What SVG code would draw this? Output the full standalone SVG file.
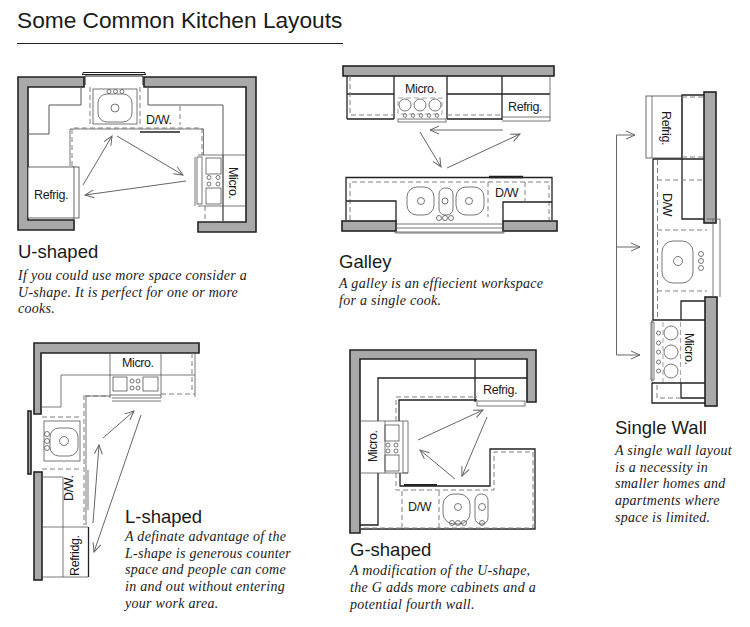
<svg xmlns="http://www.w3.org/2000/svg" width="750" height="627" viewBox="0 0 750 627">
<defs>
<marker id="a" markerUnits="userSpaceOnUse" markerWidth="12" markerHeight="12" refX="10" refY="5" orient="auto"><path d="M1 1L10 5L1 9" fill="none" stroke="#666" stroke-width="1"/></marker>
</defs>
<style>
text{fill:#1a1a1a}
.t{font-family:"Liberation Sans",Arial,sans-serif}
.h{font-size:18.5px}
.l{font-family:"Liberation Sans",Arial,sans-serif;font-size:12.5px;letter-spacing:-.4px}
.d{font-family:"Liberation Serif","Times New Roman",serif;font-style:italic;font-size:14px;letter-spacing:.28px}
.w{fill:#a9a9a9;stroke:#222;stroke-width:1.6}
.k{fill:none;stroke:#222;stroke-width:1.3}
.n{fill:none;stroke:#555;stroke-width:.8}
.g{fill:none;stroke:#808080;stroke-width:1;stroke-dasharray:5 3}
.f{fill:#fff;stroke:#444;stroke-width:.8}
.r{fill:none;stroke:#666;stroke-width:1;marker-end:url(#a)}
</style>
<rect width="750" height="627" fill="#fff"/>
<g id="title">
<text class="t" x="17" y="28" font-size="22.7">Some Common Kitchen Layouts</text>
<path d="M17 43.500H343" stroke="#222" stroke-width="1.2" fill="none"/>
</g>

<g id="u-shaped">
<path class="k" style="stroke-width:1" d="M83 75V72.500H145V75M82 74.500H146M85 85V76H143V85"/>
<path class="w" d="M18 77H84V87H28V220H74V230H18Z"/>
<path class="w" d="M144 77H256V232H198V222H246V87H144Z"/>
<path class="k" style="stroke:#555;stroke-width:1" d="M81 87V105H49V134H28M148 87V105H223V222"/>
<path class="g" d="M90 87V127M140 87V127M180 106V125"/>
<rect class="n" x="93" y="89" width="44" height="35"/>
<rect class="n" x="98" y="94" width="34" height="28" rx="9"/>
<circle class="n" cx="115" cy="108" r="4"/>
<circle class="n" cx="109" cy="91.500" r="2"/><circle class="n" cx="115.500" cy="91.500" r="2"/><circle class="n" cx="122" cy="91.500" r="2"/>
<path class="g" d="M72 166V128H202V155M205 206V222"/>
<path class="n" d="M70 166V129H203.500V155"/>
<path class="k" d="M140 132H180"/>
<text class="l" x="146" y="124">D/W.</text>
<rect class="f" x="73" y="167" width="6" height="51"/>
<rect class="f" x="28" y="167" width="46" height="51"/>
<text class="l" x="34" y="199">Refrig.</text>
<path class="n" d="M198 155H245M198 206H245M195 157V206M223 155V222"/>
<rect class="n" x="197" y="157" width="5" height="47"/>
<rect class="n" x="206" y="158" width="15" height="16"/>
<rect class="n" x="206" y="188" width="15" height="16"/>
<circle class="n" cx="209" cy="177.500" r="2"/><circle class="n" cx="218" cy="177.500" r="2"/><circle class="n" cx="209" cy="184" r="2"/><circle class="n" cx="218" cy="184" r="2"/>
<text class="l" transform="translate(229 167) rotate(90)">Micro.</text>
</g>

<g id="galley">
<rect class="w" x="343" y="66" width="211" height="10"/>
<path class="k" d="M347 119V76M394 76V119M447 76V119M502 76V120M347 94H394M447 94H550M347 119H394M447 119H502"/>
<path class="n" d="M502 117H550M502 121H550M550 76V121"/>
<path class="g" d="M350 76V115H394M447 115H502"/>
<circle class="n" cx="405" cy="105" r="6"/><circle class="n" cx="420" cy="105" r="6"/><circle class="n" cx="435" cy="105" r="6"/>
<path class="g" style="stroke-width:.7" d="M398 98H442V114H398Z"/>
<circle class="n" cx="405" cy="115.500" r="1.800"/><circle class="n" cx="413" cy="115.500" r="1.800"/><circle class="n" cx="421" cy="115.500" r="1.800"/><circle class="n" cx="429" cy="115.500" r="1.800"/><circle class="n" cx="437" cy="115.500" r="1.800"/>
<rect class="n" x="398" y="119" width="48" height="3"/>
<text class="l" x="405" y="93">Micro.</text>
<text class="l" x="508" y="111">Refrig.</text>
<path class="k" d="M346 220V177.500H552V220"/>
<path class="k" style="stroke-width:2.400" d="M489 177H523"/>
<path class="g" d="M350 220V182H549V220M488 182V217M525 182V201"/>
<path class="k" d="M346 201H396V221M503 221V202H552"/>
<text class="l" x="495" y="197">D/W</text>
<rect class="n" x="407" y="187" width="27" height="28" rx="10"/>
<rect class="n" x="439" y="188" width="14" height="27" rx="6"/>
<rect class="n" x="456" y="187" width="28" height="28" rx="10"/>
<circle class="n" cx="421" cy="201" r="3.500"/><circle class="n" cx="445" cy="201" r="3"/><circle class="n" cx="469" cy="201" r="3.500"/>
<circle class="n" cx="439" cy="218" r="2.500"/><circle class="n" cx="445" cy="218" r="2.500"/><circle class="n" cx="451" cy="218" r="2.500"/>
<rect class="w" x="342" y="221" width="54" height="10"/>
<rect class="w" x="503" y="221" width="54" height="10"/>
<path class="n" d="M396 224H503M396 228H503M396 232H503"/>
<path class="n" d="M395 231V233H504V231"/>
</g>

<g id="single-wall">
<rect class="w" x="704" y="92" width="12" height="131"/>
<rect class="w" x="705" y="297" width="12" height="109"/>
<rect class="f" x="646" y="96" width="36" height="62"/>
<path class="n" d="M652 96V158"/>
<path class="k" d="M704 95H682V219H704M653 159H704M653 159V320H705"/>
<path class="g" d="M682 97H704M682 157H704M657.500 160V320M657 180H704M657 230H707M657 291H707"/>
<path class="n" d="M707 219H720V297M713 219V297"/>
<rect class="n" x="662" y="241" width="31" height="42" rx="11"/>
<circle class="n" cx="678" cy="261" r="4.500"/>
<circle class="n" cx="701" cy="254" r="2.500"/><circle class="n" cx="701" cy="261" r="2.500"/><circle class="n" cx="701" cy="268" r="2.500"/>
<path class="k" d="M681 320V301H705"/>
<path class="n" d="M651 322V380H654V322ZM652 383V320"/>
<circle class="n" cx="671" cy="333" r="7"/><circle class="n" cx="671" cy="352" r="7"/><circle class="n" cx="671" cy="371" r="7"/>
<circle class="n" cx="658.500" cy="333" r="2"/><circle class="n" cx="658.500" cy="343" r="2"/><circle class="n" cx="658.500" cy="352" r="2"/><circle class="n" cx="658.500" cy="362" r="2"/><circle class="n" cx="658.500" cy="371" r="2"/>
<path class="g" style="stroke-width:.7" d="M680.500 322V383M663 322V383"/>
<path class="k" d="M652 383H705M652 383V403H705M681 383V398H705"/>
<path class="g" d="M657 385V398H681"/>
<text class="l" transform="translate(685 333) rotate(90)">Micro.</text>
<text class="l" transform="translate(662 111) rotate(90)">Refrig.</text>
<text class="l" transform="translate(663 193) rotate(90)">D/W</text>
</g>

<g id="l-shaped">
<rect class="w" x="28" y="411" width="3" height="63"/>
<path class="w" d="M34 343H199V353H41V414H34Z"/>
<rect class="w" x="34" y="472" width="8" height="108"/>
<path class="n" d="M41 407H61V375H195M195 353V397M110 353V398M161 353V398"/>
<path class="g" d="M192 353V390M85 396H110M161 394H195M84 395V525"/>
<path class="n" d="M86 396H110M86 396V525"/>
<rect class="n" x="113" y="377" width="14" height="14"/><rect class="n" x="143" y="377" width="15" height="14"/>
<circle class="n" cx="132" cy="381" r="2"/><circle class="n" cx="138" cy="381" r="2"/><circle class="n" cx="132" cy="388" r="2"/><circle class="n" cx="138" cy="388" r="2"/>
<path class="n" d="M110 395H161M112 398H161M112 401H161"/>
<text class="l" x="122" y="367">Micro.</text>
<path class="g" d="M42 417H82M42 469H82"/>
<rect class="n" x="44" y="421" width="36" height="40"/>
<rect class="n" x="50" y="428" width="28" height="28" rx="9"/>
<circle class="n" cx="64" cy="441" r="4.500"/>
<circle class="n" cx="47" cy="434" r="2.500"/><circle class="n" cx="47" cy="441" r="2.500"/><circle class="n" cx="47" cy="448" r="2.500"/>
<path class="n" d="M42 477H63V577M88 470V510M43 527H88M43 577H88"/>
<path class="k" d="M88.500 527V577"/>
<text class="l" transform="translate(73 501) rotate(-90)">D/W.</text>
<text class="l" transform="translate(79 576) rotate(-90)">Refridg.</text>
</g>

<g id="g-shaped">
<path class="w" d="M350 350H536V402H527V359H360V533H350Z"/>
<path class="k" d="M378 421V378H527M475 359V402M378 473V525H360"/>
<path class="k" d="M399 421V400H477M400 473V486H490V449H535V529H360"/>
<path class="g" d="M396 421V397H477M396 473V490H494V452H533V528H360M402 491V528M439 491V528"/>
<path class="k" style="stroke-width:2" d="M404 485H437"/>
<rect class="n" x="477" y="401" width="48" height="5"/>
<text class="l" x="483" y="394">Refrig.</text>
<path class="n" d="M360 421H408V473H360M385 421V473"/>
<path class="n" d="M403 421V473H408"/>
<rect class="n" x="385" y="425" width="14" height="16"/><rect class="n" x="385" y="455" width="14" height="16"/>
<circle class="n" cx="388" cy="445" r="2"/><circle class="n" cx="396" cy="445" r="2"/><circle class="n" cx="388" cy="451" r="2"/><circle class="n" cx="396" cy="451" r="2"/>
<text class="l" transform="translate(377 462) rotate(-90)">Micro.</text>
<text class="l" x="408" y="511">D/W</text>
<rect class="n" x="443" y="494" width="27" height="30" rx="11"/>
<rect class="n" x="475" y="494" width="13" height="30" rx="6"/>
<circle class="n" cx="458" cy="507" r="3.500"/><circle class="n" cx="482" cy="507" r="3.500"/>
<circle class="n" cx="452" cy="523" r="2.500"/><circle class="n" cx="458" cy="523" r="2.500"/><circle class="n" cx="464" cy="523" r="2.500"/><circle class="n" cx="482" cy="523" r="2.500"/>
</g>

<g id="connectors">
<path class="r" d="M83 185L112 136"/><path class="r" d="M117 136L183 175"/><path class="r" d="M186 181L85 195"/>
<path class="r" d="M503 130H430"/><path class="r" d="M420 132L441 167"/><path class="r" d="M447 168L520 134"/>
<path class="r" d="M616.500 355V135H635"/><path class="r" d="M616.500 247H640"/><path class="r" d="M616.500 355H640"/>
<path class="r" d="M103 438L134 411"/><path class="r" d="M93 523L99 445"/><path class="r" d="M141 415L94 552"/>
<path class="r" d="M418 440L483 410"/><path class="r" d="M487 417L462 476"/><path class="r" d="M455 479L420 450"/>
</g>

<g id="labels">
<text class="t h" x="18" y="258">U-shaped</text>
<text class="d" x="18" y="280">If you could use more space consider a</text>
<text class="d" x="18" y="296.500">U-shape. It is perfect for one or more</text>
<text class="d" x="18" y="313">cooks.</text>
<text class="t h" x="339" y="268">Galley</text>
<text class="d" x="339" y="288">A galley is an effiecient workspace</text>
<text class="d" x="339" y="305">for a single cook.</text>
<text class="t h" x="615" y="434">Single Wall</text>
<text class="d" x="615" y="455">A single wall layout</text>
<text class="d" x="615" y="472">is a necessity in</text>
<text class="d" x="615" y="488">smaller homes and</text>
<text class="d" x="615" y="505">apartments where</text>
<text class="d" x="615" y="522">space is limited.</text>
<text class="t h" x="125" y="523">L-shaped</text>
<text class="d" x="125" y="541">A definate advantage of the</text>
<text class="d" x="125" y="558">L-shape is generous counter</text>
<text class="d" x="125" y="574">space and people can come</text>
<text class="d" x="125" y="591">in and out without entering</text>
<text class="d" x="125" y="608">your work area.</text>
<text class="t h" x="350" y="556">G-shaped</text>
<text class="d" x="350" y="575">A modification of the U-shape,</text>
<text class="d" x="350" y="592">the G adds more cabinets and a</text>
<text class="d" x="350" y="609">potential fourth wall.</text>
</g>
</svg>
